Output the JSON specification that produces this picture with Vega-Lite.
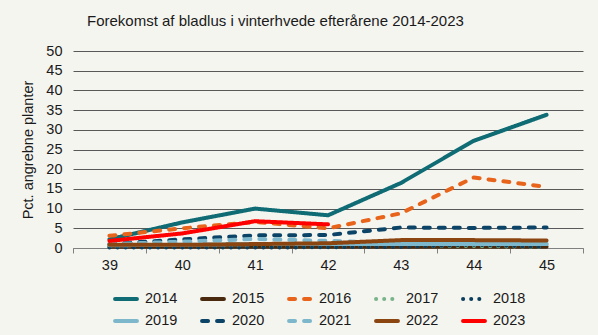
{
  "$schema": "https://vega.github.io/schema/vega-lite/v6.json",
  "width": 510,
  "height": 197,
  "autosize": "none",
  "padding": {"left": 73, "top": 51, "right": 15, "bottom": 87},
  "background": "#f5f5f0",
  "title": {"text": "Forekomst af bladlus i vinterhvede efterårene 2014-2023", "fontSize": 15, "font": "Liberation Sans", "fontWeight": "normal", "color": "#1a1a1a", "anchor": "start", "frame": "group", "dx": 14, "offset": 14},
  "config": {
    "view": {"stroke": null},
    "font": "Liberation Sans"
  },
  "datasets": {
    "d": [
      {"uge": "39", "aar": "2014", "pct": 2.2}, {"uge": "40", "aar": "2014", "pct": 6.5}, {"uge": "41", "aar": "2014", "pct": 10}, {"uge": "42", "aar": "2014", "pct": 8.3}, {"uge": "43", "aar": "2014", "pct": 16.5}, {"uge": "44", "aar": "2014", "pct": 27.2}, {"uge": "45", "aar": "2014", "pct": 33.8},
      {"uge": "39", "aar": "2015", "pct": 0.3}, {"uge": "40", "aar": "2015", "pct": 0.3}, {"uge": "41", "aar": "2015", "pct": 0.3}, {"uge": "42", "aar": "2015", "pct": 0.3}, {"uge": "43", "aar": "2015", "pct": 0.3}, {"uge": "44", "aar": "2015", "pct": 0.3}, {"uge": "45", "aar": "2015", "pct": 0.3},
      {"uge": "39", "aar": "2016", "pct": 3.1}, {"uge": "40", "aar": "2016", "pct": 5}, {"uge": "41", "aar": "2016", "pct": 6.6}, {"uge": "42", "aar": "2016", "pct": 5}, {"uge": "43", "aar": "2016", "pct": 8.8}, {"uge": "44", "aar": "2016", "pct": 17.9}, {"uge": "45", "aar": "2016", "pct": 15.5},
      {"uge": "39", "aar": "2017", "pct": 0.3}, {"uge": "40", "aar": "2017", "pct": 0.3}, {"uge": "41", "aar": "2017", "pct": 0.3}, {"uge": "42", "aar": "2017", "pct": 0.3}, {"uge": "43", "aar": "2017", "pct": 0.5}, {"uge": "44", "aar": "2017", "pct": 0.5}, {"uge": "45", "aar": "2017", "pct": 0.3},
      {"uge": "39", "aar": "2018", "pct": 0.1}, {"uge": "40", "aar": "2018", "pct": 0.1}, {"uge": "41", "aar": "2018", "pct": 0.1}, {"uge": "42", "aar": "2018", "pct": 0.2}, {"uge": "43", "aar": "2018", "pct": 0.3}, {"uge": "44", "aar": "2018", "pct": 0.8}, {"uge": "45", "aar": "2018", "pct": 0.3},
      {"uge": "39", "aar": "2019", "pct": 0.7}, {"uge": "40", "aar": "2019", "pct": 0.8}, {"uge": "41", "aar": "2019", "pct": 1}, {"uge": "42", "aar": "2019", "pct": 1}, {"uge": "43", "aar": "2019", "pct": 1}, {"uge": "44", "aar": "2019", "pct": 1}, {"uge": "45", "aar": "2019", "pct": 1},
      {"uge": "39", "aar": "2020", "pct": 1}, {"uge": "40", "aar": "2020", "pct": 2.2}, {"uge": "41", "aar": "2020", "pct": 3.2}, {"uge": "42", "aar": "2020", "pct": 3.3}, {"uge": "43", "aar": "2020", "pct": 5.2}, {"uge": "44", "aar": "2020", "pct": 5.1}, {"uge": "45", "aar": "2020", "pct": 5.2},
      {"uge": "39", "aar": "2021", "pct": 1}, {"uge": "40", "aar": "2021", "pct": 1.6}, {"uge": "41", "aar": "2021", "pct": 2.3}, {"uge": "42", "aar": "2021", "pct": 1.8}, {"uge": "43", "aar": "2021", "pct": 1.3}, {"uge": "44", "aar": "2021", "pct": 1.2}, {"uge": "45", "aar": "2021", "pct": 1},
      {"uge": "39", "aar": "2022", "pct": 0.8}, {"uge": "40", "aar": "2022", "pct": 0.8}, {"uge": "41", "aar": "2022", "pct": 1}, {"uge": "42", "aar": "2022", "pct": 1.2}, {"uge": "43", "aar": "2022", "pct": 2}, {"uge": "44", "aar": "2022", "pct": 2}, {"uge": "45", "aar": "2022", "pct": 1.9},
      {"uge": "39", "aar": "2023", "pct": 1.8}, {"uge": "40", "aar": "2023", "pct": 3.7}, {"uge": "41", "aar": "2023", "pct": 6.8}, {"uge": "42", "aar": "2023", "pct": 6}
    ]
  },
  "data": {"name": "d"},
  "mark": {"type": "line", "strokeWidth": 4, "strokeCap": "round", "strokeJoin": "round"},
  "encoding": {
    "x": {
      "field": "uge", "type": "ordinal", "title": null,
      "scale": {"type": "band", "paddingInner": 0, "paddingOuter": 0},
      "bandPosition": 0.5,
      "axis": {"labelAngle": 0, "labelFontSize": 14.5, "labelColor": "#1a1a1a", "domainColor": "#808080", "tickColor": "#808080", "tickBand": "extent", "tickSize": 5, "labelPadding": 5, "grid": false}
    },
    "y": {
      "field": "pct", "type": "quantitative", "title": "Pct. angrebne planter",
      "scale": {"domain": [0, 50], "nice": false},
      "axis": {"values": [0, 5, 10, 15, 20, 25, 30, 35, 40, 45, 50], "labelFontSize": 14.5, "labelColor": "#1a1a1a", "domain": false, "ticks": false, "labelPadding": 11, "gridColor": "#595959", "gridWidth": 1, "gridOpacity": 1, "titleFontSize": 14.5, "titleFontWeight": "normal", "titleColor": "#1a1a1a", "titlePadding": 10}
    },
    "color": {
      "field": "aar", "type": "nominal", "title": null,
      "scale": {
        "domain": ["2014", "2015", "2016", "2017", "2018", "2019", "2020", "2021", "2022", "2023"],
        "range": ["#0f6b74", "#4a2a0e", "#e8641b", "#79b38a", "#0b3d5c", "#7db7cb", "#0b4466", "#7db7cb", "#8b4510", "#ff0000"]
      },
      "legend": {
        "orient": "none", "legendX": 40, "legendY": 235, "direction": "horizontal", "columns": 5,
        "symbolType": "stroke", "symbolSize": 480, "symbolStrokeWidth": 4,
        "labelFontSize": 14.5, "labelColor": "#1a1a1a", "labelOffset": 6, "columnPadding": 16, "rowPadding": 1,
        "encode": {"symbols": {"update": {"strokeCap": {"value": "round"}}}}
      }
    },
    "strokeDash": {
      "field": "aar", "type": "nominal", "title": null,
      "scale": {
        "domain": ["2014", "2015", "2016", "2017", "2018", "2019", "2020", "2021", "2022", "2023"],
        "range": [[1, 0], [1, 0], [6, 9], [0.1, 8], [0.1, 8], [1, 0], [6, 9], [6, 9], [1, 0], [1, 0]]
      }
    }
  }
}
